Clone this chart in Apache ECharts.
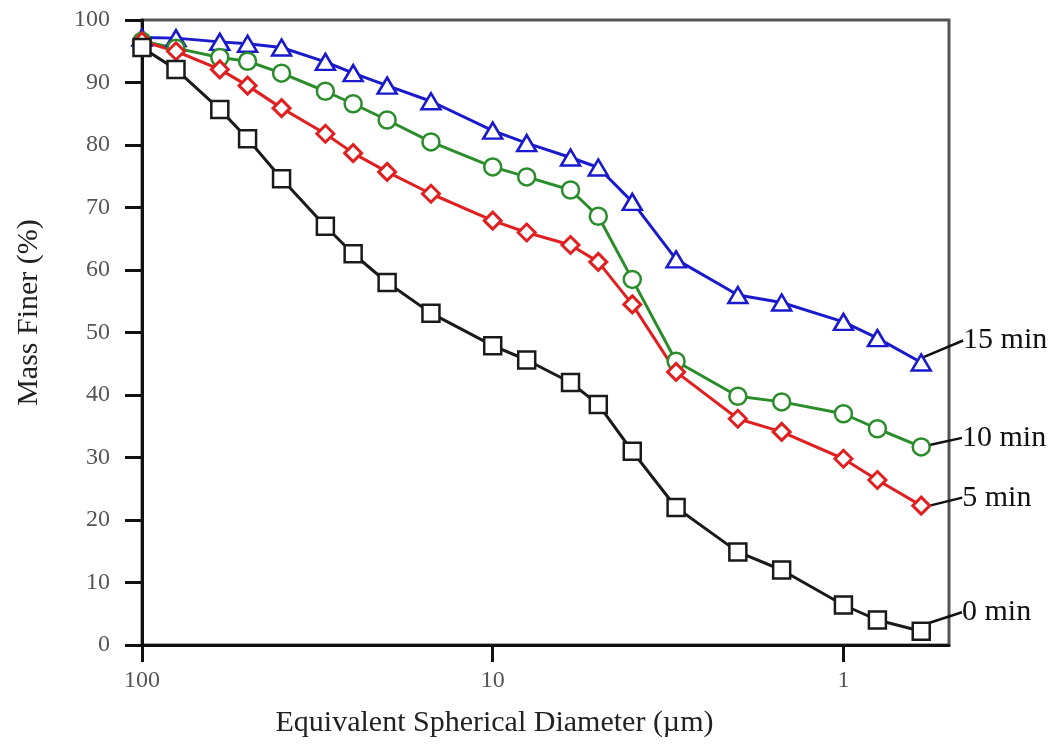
<!DOCTYPE html>
<html>
<head>
<meta charset="utf-8">
<script src="https://cdn.jsdelivr.net/npm/echarts@6/dist/echarts.min.js"></script>
<style>html,body{margin:0;padding:0;background:#fff;}#c{width:1054px;height:744px;}</style>
</head>
<body>
<div id="c"></div>
<script>
const sizes = [100, 80, 60, 50, 40, 30, 25, 20, 15, 10, 8, 6, 5, 4, 3, 2, 1.5, 1, 0.8, 0.6];
const min0  = [95.6, 92.1, 85.7, 81.0, 74.6, 67.0, 62.6, 58.0, 53.1, 47.9, 45.6, 42.0, 38.5, 31.0, 22.0, 14.9, 12.0, 6.4, 4.0, 2.2];
const min5  = [96.6, 95.0, 92.1, 89.5, 85.9, 81.8, 78.7, 75.7, 72.2, 67.9, 66.0, 64.0, 61.3, 54.5, 43.7, 36.2, 34.1, 29.8, 26.4, 22.3];
const min10 = [96.6, 95.5, 94.0, 93.4, 91.5, 88.6, 86.6, 84.0, 80.5, 76.5, 74.9, 72.8, 68.6, 58.5, 45.4, 39.8, 38.9, 37.0, 34.6, 31.7];
const min15 = [97.2, 97.1, 96.5, 96.2, 95.6, 93.3, 91.5, 89.5, 87.0, 82.3, 80.3, 78.0, 76.4, 70.9, 61.7, 56.0, 54.8, 51.7, 49.1, 45.2];
const seriesNames = ['15 min', '10 min', '5 min', '0 min'];
const xTicks = [100, 10, 1];

const FONT = '"Liberation Serif", "DejaVu Serif", serif';

function makeSeries(name, values, color, symbol, size, bw, dx, dy) {
  const last = values.length - 1;
  const data = values.map((v, i) => {
    const d = { value: [sizes[i], v] };
    if (i === last) {
      d.label = {
        show: true, position: 'right', distance: 5,
        formatter: name, color: '#111', fontSize: 30, fontFamily: FONT
      };
    }
    return d;
  });
  return {
    name: name, type: 'line', data: data, clip: false,
    symbol: symbol, symbolSize: size, showAllSymbol: true,
    lineStyle: { color: color, width: 3 },
    itemStyle: { color: '#fff', borderColor: color, borderWidth: bw },
    labelLine: { show: true, lineStyle: { color: '#111', width: 2.5 } },
    labelLayout: function (p) {
      if (p.dataIndex !== last) return {};
      return { dx: dx, dy: dy };
    },
    emphasis: { disabled: true },
    animation: false
  };
}

const chart = echarts.init(document.getElementById('c'), null, { renderer: 'canvas' });
chart.setOption({
  backgroundColor: '#fff',
  animation: false,
  grid: { left: 142, top: 20, right: 105, bottom: 99, show: true, borderColor: '#555', borderWidth: 3, backgroundColor: 'transparent' },
  xAxis: {
    type: 'log', logBase: 10, min: 0.5, max: 100, inverse: true,
    name: 'Equivalent Spherical Diameter (µm)', nameLocation: 'middle', nameGap: 63,
    nameTextStyle: { fontFamily: FONT, fontSize: 30, color: '#222', padding: [0, 102, 0, 0] },
    axisLine: { lineStyle: { color: '#111', width: 3 } },
    axisTick: { show: true, length: 17, inside: false, customValues: xTicks, lineStyle: { color: '#111', width: 3 } },
    axisLabel: { customValues: xTicks, margin: 24, fontFamily: FONT, fontSize: 24, color: '#555' },
    splitLine: { show: false },
    minorTick: { show: false }
  },
  yAxis: {
    type: 'value', min: 0, max: 100, interval: 10,
    name: 'Mass Finer (%)', nameLocation: 'middle', nameGap: 98, nameRotate: 90,
    nameTextStyle: { fontFamily: FONT, fontSize: 30, color: '#222', padding: [0, 0, 0, 40] },
    axisLine: { show: true, lineStyle: { color: '#111', width: 3 } },
    axisTick: { show: true, length: 17, inside: false, lineStyle: { color: '#111', width: 3 } },
    axisLabel: { margin: 32, fontFamily: FONT, fontSize: 24, color: '#555' },
    splitLine: { show: false }
  },
  series: [
    makeSeries(seriesNames[0], min15, '#1a1acc', 'triangle', [19, 16], 2.5, 26, -22),
    makeSeries(seriesNames[1], min10, '#2a8c2a', 'circle', 17, 2.5, 26, -9),
    makeSeries(seriesNames[2], min5, '#e02020', 'diamond', 17, 3, 26, -8),
    makeSeries(seriesNames[3], min0, '#1a1a1a', 'rect', 17, 2.5, 26, -19)
  ]
});
</script>
</body>
</html>
